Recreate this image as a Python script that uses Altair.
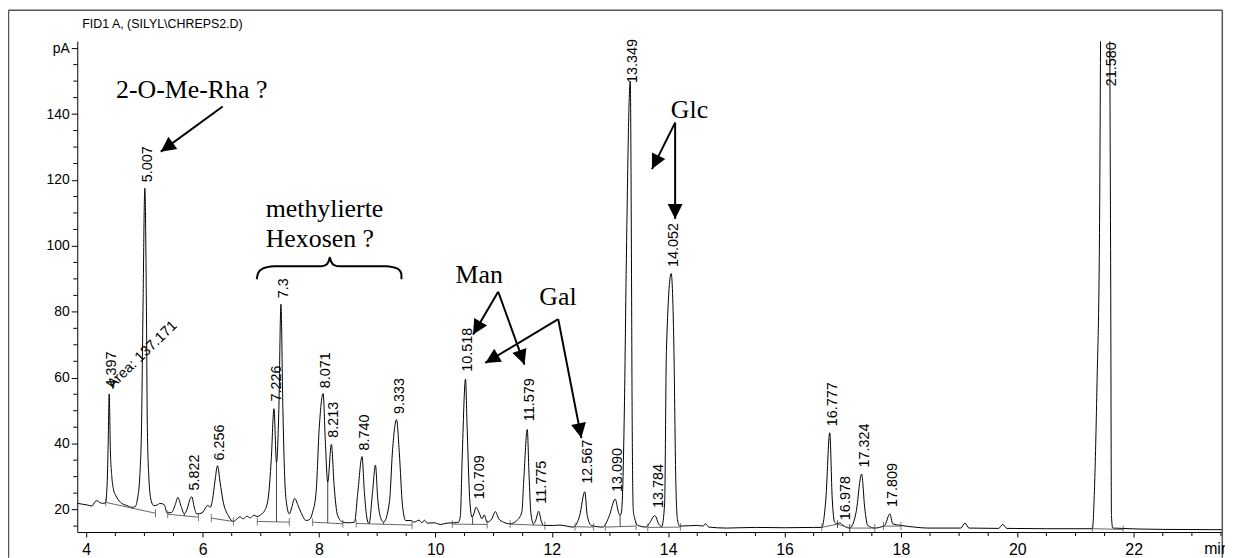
import math
import altair as alt
import pandas as pd

# ---------------- chromatogram trace (retention time [min], signal [pA])
trace_t = [3.85, 3.95, 4.02, 4.10, 4.15, 4.19, 4.23, 4.28, 4.33, 4.36,
           4.375, 4.395, 4.415, 4.44, 4.47, 4.51, 4.59, 4.70, 4.79, 4.84,
           4.88, 4.92, 4.95, 4.975, 5.007, 5.035, 5.05, 5.075, 5.11, 5.16,
           5.22, 5.27, 5.34, 5.39, 5.47, 5.53, 5.575, 5.63, 5.685, 5.74,
           5.78, 5.815, 5.855, 5.90, 5.99, 6.05, 6.09, 6.13, 6.17, 6.215,
           6.256, 6.30, 6.356, 6.44, 6.53, 6.58, 6.64, 6.70, 6.76, 6.82,
           6.88, 6.94, 7.00, 7.06, 7.125, 7.18, 7.226, 7.27, 7.31, 7.346,
           7.38, 7.41, 7.44, 7.49, 7.53, 7.58, 7.64, 7.69, 7.78, 7.84,
           7.89, 7.95, 8.006, 8.071, 8.11, 8.15, 8.213, 8.26, 8.32, 8.41,
           8.50, 8.61, 8.667, 8.74, 8.78, 8.826, 8.86, 8.92, 8.97, 9.01,
           9.065, 9.11, 9.21, 9.265, 9.333, 9.38, 9.435, 9.49, 9.58, 9.635,
           9.72, 9.77, 9.81, 9.86, 9.98, 10.09, 10.20, 10.32, 10.40, 10.43,
           10.46, 10.518, 10.545, 10.59, 10.63, 10.66, 10.70, 10.76, 10.80, 10.84,
           10.887, 10.97, 11.03, 11.09, 11.17, 11.285, 11.40, 11.485, 11.52, 11.579,
           11.61, 11.64, 11.685, 11.72, 11.775, 11.82, 11.855, 12.03, 12.14, 12.37,
           12.48, 12.567, 12.61, 12.68, 12.88, 12.99, 13.09, 13.146, 13.175, 13.20,
           13.25, 13.28, 13.349, 13.37, 13.38, 13.40, 13.42, 13.48, 13.62, 13.69,
           13.77, 13.845, 13.89, 13.94, 13.97, 14.052, 14.10, 14.13, 14.16, 14.20,
           14.50, 14.60, 14.64, 14.70, 15.00, 15.50, 16.00, 16.50, 16.64, 16.71,
           16.777, 16.82, 16.86, 16.91, 16.95, 17.00, 17.12, 17.23, 17.324, 17.38,
           17.43, 17.55, 17.72, 17.809, 17.86, 18.00, 18.23, 18.46, 19.03, 19.10,
           19.17, 19.68, 19.75, 19.82, 20.50, 21.29, 21.33, 21.37, 21.41, 21.43,
           21.45, 21.575, 21.59, 21.605, 21.618, 21.64, 22.50, 23.52]
trace_v = [21.9, 21.6, 21.4, 21.1, 22.4, 22.7, 22.2, 21.9, 22.0, 28.0,
           38.0, 55.1, 38.0, 30.0, 26.0, 24.2, 22.2, 21.2, 20.7, 20.9,
           23.2, 30.0, 45.0, 80.0, 117.5, 80.0, 45.3, 30.3, 23.2, 21.2,
           21.4, 21.9, 21.5, 19.0, 19.2, 21.5, 23.7, 21.0, 18.7, 20.5,
           23.0, 23.9, 20.8, 18.7, 19.0, 20.5, 21.3, 20.7, 23.0, 29.0,
           33.3, 28.3, 22.2, 18.2, 16.4, 17.0, 17.8, 17.2, 18.0, 17.5,
           18.3, 17.9, 18.5, 19.5, 23.2, 35.3, 50.6, 34.3, 50.4, 82.3,
           50.0, 30.0, 22.2, 18.7, 20.5, 23.4, 21.3, 19.2, 16.7, 17.0,
           19.2, 25.2, 45.3, 55.2, 40.3, 28.3, 39.8, 27.2, 18.2, 16.2,
           16.0, 16.2, 25.2, 36.1, 25.2, 17.2, 15.7, 25.2, 33.5, 23.2,
           17.2, 16.2, 22.2, 38.3, 47.3, 37.3, 21.2, 16.7, 16.7, 16.2,
           16.8, 16.0, 16.8, 15.9, 16.0, 15.5, 15.9, 16.0, 16.2, 18.2,
           35.3, 59.6, 45.3, 23.2, 17.7, 18.7, 20.7, 18.7, 17.2, 18.4,
           16.2, 17.2, 19.4, 17.2, 16.2, 15.7, 16.7, 19.2, 29.3, 44.3,
           30.3, 19.2, 15.7, 16.5, 19.5, 16.5, 15.2, 15.2, 15.3, 14.7,
           18.2, 25.4, 18.2, 15.2, 14.7, 18.2, 23.2, 19.2, 18.2, 19.5,
           53.0, 93.6, 150.0, 93.6, 53.0, 20.0, 17.7, 15.2, 14.7, 16.2,
           18.2, 15.4, 14.9, 22.0, 68.0, 91.6, 68.0, 30.0, 17.0, 15.0,
           15.2, 15.0, 15.7, 14.7, 14.4, 14.6, 14.5, 14.6, 14.6, 23.2,
           43.3, 23.2, 16.2, 15.7, 16.0, 15.3, 14.4, 19.2, 30.8, 20.2,
           15.2, 14.4, 15.2, 18.7, 15.7, 15.2, 14.7, 14.4, 14.4, 15.9,
           14.4, 14.3, 15.5, 14.3, 14.2, 14.2, 28.3, 58.4, 98.6, 160.0,
           250.0, 250.0, 160.0, 90.0, 18.2, 14.4, 14.0, 13.9]
assert len(trace_t) == len(trace_v)

# ---------------- peak retention-time labels
peak_labels = ["4.397", "5.007", "5.822", "6.256", "7.226", "7.3", "8.071", "8.213",
               "8.740", "9.333", "10.518", "10.709", "11.579", "11.775", "12.567",
               "13.090", "13.349", "13.784", "14.052", "16.777", "16.978", "17.324",
               "17.809", "21.580"]
peak_label_t = [4.397, 5.007, 5.822, 6.256, 7.226, 7.346, 8.071, 8.213,
                8.740, 9.333, 10.518, 10.720, 11.579, 11.775, 12.567,
                13.090, 13.349, 13.784, 14.052, 16.777, 17.000, 17.324,
                17.809, 21.580]
peak_label_v = [55.2, 117.5, 24.0, 33.1, 51.0, 82.3, 55.0, 40.0,
                36.1, 47.2, 60.0, 21.3, 45.0, 20.0, 26.0,
                23.5, 147.6, 18.7, 91.8, 43.5, 15.0, 31.0,
                19.0, 146.6]

area_text = ["Area: 137.171"]
area_t = [4.454]
area_v = [56.5]

# ---------------- integration baselines, drop lines
base_t1 = [4.335, 5.40, 6.15, 6.94, 7.89, 8.64, 10.29, 11.285, 12.40, 12.92, 13.65, 16.64, 16.91, 17.12, 17.70, 21.29]
base_v1 = [22.2, 18.6, 17.4, 16.4, 16.2, 15.8, 15.6, 15.6, 14.8, 14.7, 14.6, 14.6, 15.6, 14.4, 15.0, 14.2]
base_t2 = [5.19, 5.93, 6.53, 7.49, 8.41, 9.60, 10.89, 11.88, 12.72, 13.45, 14.21, 16.91, 17.12, 17.55, 18.00, 21.82]
base_v2 = [18.9, 17.7, 16.4, 16.2, 15.7, 15.3, 15.5, 15.2, 14.7, 15.0, 14.7, 15.6, 14.4, 14.4, 15.0, 14.0]

drop_t = [4.79, 5.685, 7.27, 8.15, 8.86, 9.11, 10.64, 11.685, 13.175, 13.89]
drop_v1 = [20.7, 18.7, 34.3, 28.3, 15.7, 16.2, 17.7, 15.7, 18.2, 14.9]
drop_v2 = [20.2, 18.0, 16.3, 15.95, 15.6, 15.5, 15.4, 15.3, 14.8, 14.6]

# ---------------- annotations
ann_text = ["2-O-Me-Rha ?", "methylierte", "Hexosen ?", "Man", "Gal", "Glc"]
ann_t = [4.512, 7.084, 7.084, 10.346, 11.787, 14.046]
ann_v = [144.9, 108.7, 99.7, 88.65, 82.1, 138.9]

arrow_t1 = [6.345, 11.080, 11.080, 12.111, 12.111, 14.120, 14.120]
arrow_v1 = [142.3, 86.1, 86.1, 77.8, 77.8, 137.4, 137.4]
arrow_t2 = [5.281, 10.648, 11.531, 10.858, 12.509, 13.722, 14.120]
arrow_v2 = [128.6, 73.1, 64.0, 64.5, 41.7, 123.3, 108.2]

brace_t = [6.930, 6.951, 7.002, 7.096, 7.233, 8.018, 8.112, 8.163, 8.185,
           8.209, 8.261, 8.354, 9.145, 9.282, 9.376, 9.415, 9.418]
brace_v = [89.9, 91.6, 92.8, 93.5, 93.8, 93.8, 94.2, 95.2, 96.5,
           95.2, 94.2, 93.8, 93.8, 93.5, 92.8, 91.6, 89.9]

# ---------------- axes
x_major = [4, 6, 8, 10, 12, 14, 16, 18, 20, 22]
y_major = [20, 40, 60, 80, 100, 120, 140, 160]
x_minor = [v / 2 for v in range(8, 48) if v % 4 != 0]
y_minor = [v for v in range(15, 161, 5) if v % 20 != 0]

T_MIN, T_MAX = 3.846, 23.518
V_MIN, V_MAX = 13.2, 162.13
W, H = 1152, 494
PX_T = W / (T_MAX - T_MIN)
PX_V = H / (V_MAX - V_MIN)

xs = alt.Scale(domain=[T_MIN, T_MAX], nice=False, zero=False)
ys = alt.Scale(domain=[V_MIN, V_MAX], nice=False, zero=False)

SANS = "Liberation Sans"
SERIF = "Liberation Serif"

x_axis = alt.Axis(values=x_major, format="d", title=None, grid=False, tickSize=5,
                  labelFontSize=16, labelPadding=5, labelFlush=False, labelOverlap=False)
y_axis = alt.Axis(values=y_major, title=None, grid=False, tickSize=6, labelFontSize=14,
                  labelPadding=2, labelOverlap=False,
                  labelExpr="datum.value == 160 ? 'pA' : datum.label")


def X(f="t"):
    return alt.X(f + ":Q", scale=xs, axis=x_axis)


def Y(f="v"):
    return alt.Y(f + ":Q", scale=ys, axis=y_axis)


trace_df = pd.DataFrame({"t": trace_t, "v": trace_v})
trace = alt.Chart(trace_df).mark_line(color="black", strokeWidth=1, interpolate="monotone",
                                      clip=True).encode(x=X(), y=Y())

base_df = pd.DataFrame({"t": base_t1, "v": base_v1, "t2": base_t2, "v2": base_v2})
baselines = alt.Chart(base_df).mark_rule(color="#666666", strokeWidth=1).encode(
    x=X(), y=Y(), x2="t2:Q", y2="v2:Q")

ev_df = pd.DataFrame({"t": base_t1 + base_t2, "v": base_v1 + base_v2})
events = alt.Chart(ev_df).mark_tick(color="#444444", orient="vertical", size=8,
                                    thickness=1).encode(x=X(), y=Y())

drop_df = pd.DataFrame({"t": drop_t, "v": drop_v1, "v2": drop_v2})
drops = alt.Chart(drop_df).mark_rule(color="#444444", strokeWidth=1).encode(
    x=X(), y=Y(), y2="v2:Q")

lab_df = pd.DataFrame({"t": peak_label_t, "v": peak_label_v, "lab": peak_labels})
labels = alt.Chart(lab_df).mark_text(angle=270, align="left", baseline="middle", dx=6, dy=3,
                                     font=SANS, fontSize=14.5, color="black").encode(
    x=X(), y=Y(), text="lab:N")

area_df = pd.DataFrame({"t": area_t, "v": area_v, "lab": area_text})
area = alt.Chart(area_df).mark_text(angle=316, align="left", baseline="alphabetic",
                                    font=SANS, fontSize=14.5, color="black").encode(
    x=X(), y=Y(), text="lab:N")

ann_df = pd.DataFrame({"t": ann_t, "v": ann_v, "lab": ann_text})
ann = alt.Chart(ann_df).mark_text(align="left", baseline="alphabetic", font=SERIF,
                                  fontSize=26, color="black").encode(x=X(), y=Y(), text="lab:N")

angles = []
for a, b, c, d in zip(arrow_t1, arrow_v1, arrow_t2, arrow_v2):
    dx = (c - a) * PX_T
    dy = -(d - b) * PX_V
    angles.append(math.degrees(math.atan2(dx, -dy)) % 360)

arr_df = pd.DataFrame({"t": arrow_t1, "v": arrow_v1, "t2": arrow_t2, "v2": arrow_v2})
shafts = alt.Chart(arr_df).mark_rule(color="black", strokeWidth=2, strokeCap="butt").encode(
    x=X(), y=Y(), x2="t2:Q", y2="v2:Q")

head_df = pd.DataFrame({"t": arrow_t2, "v": arrow_v2, "ang": angles})
heads = alt.Chart(head_df).mark_point(shape="M0,0L-0.5,1L0.5,1Z", filled=True, size=900,
                                      color="black", opacity=1, strokeWidth=0).encode(
    x=X(), y=Y(), angle=alt.Angle("ang:Q", scale=None))

brace_df = pd.DataFrame({"t": brace_t, "v": brace_v})
brace = alt.Chart(brace_df).mark_line(color="black", strokeWidth=2,
                                      interpolate="monotone").encode(x=X(), y=Y())

xmin_df = pd.DataFrame({"t": x_minor})
xminor = alt.Chart(xmin_df).mark_rule(color="black", strokeWidth=1).encode(
    x=X(), y=alt.value(H), y2=alt.value(H + 4))
ymin_df = pd.DataFrame({"v": y_minor})
yminor = alt.Chart(ymin_df).mark_rule(color="black", strokeWidth=1).encode(
    y=Y(), x=alt.value(-4), x2=alt.value(0))

one = pd.DataFrame({"a": [0]})
FL, FT, FR, FB = -69.2, -31.1, W + 0.3, 520
frame_l = alt.Chart(one).mark_rule(color="#555555", strokeWidth=1.5).encode(
    x=alt.value(FL), y=alt.value(FT), y2=alt.value(FB))
frame_t = alt.Chart(one).mark_rule(color="#555555", strokeWidth=1.5).encode(
    x=alt.value(FL), x2=alt.value(FR), y=alt.value(FT))
frame_r = alt.Chart(one).mark_rule(color="#555555", strokeWidth=1.5).encode(
    x=alt.value(FR), y=alt.value(FT), y2=alt.value(FB))

title = alt.Chart(one).mark_text(text="FID1 A, (SILYL\\CHREPS2.D)", align="left",
                                 baseline="alphabetic", font=SANS,
                                 fontSize=12.5, color="black").encode(
    x=alt.value(5), y=alt.value(-13.6))
mins = alt.Chart(one).mark_text(text="min", align="left", baseline="alphabetic", font=SANS,
                                fontSize=16, color="black").encode(
    x=alt.value(1134), y=alt.value(516.4))

chart = alt.layer(
    trace, baselines, drops, events, labels, area, brace, shafts, heads, ann,
    xminor, yminor, frame_l, frame_t, frame_r, title, mins
).properties(
    width=W, height=H,
    padding={"left": 69.7, "top": 31.6, "right": 3, "bottom": 24.4},
    autosize=alt.AutoSizeParams(type="none"),
).configure_view(stroke=None).configure_axis(
    labelFont=SANS, labelColor="black", domainColor="black", tickColor="black",
    domainWidth=1, tickWidth=1
)

chart.save("out.html", embed_options={"renderer": "svg", "actions": False})
